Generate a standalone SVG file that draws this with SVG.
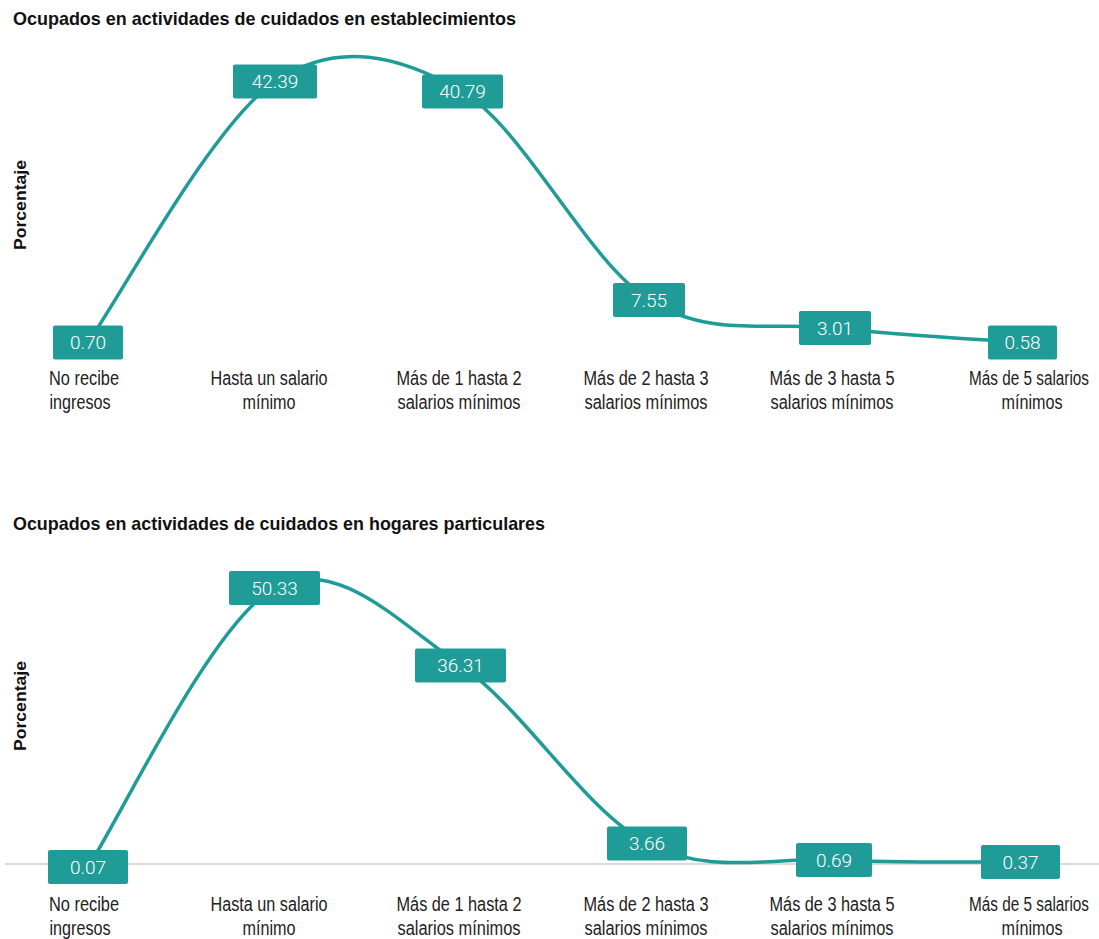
<svg xmlns="http://www.w3.org/2000/svg" width="1099" height="939" viewBox="0 0 1099 939">
<style>
.title{font-family:"Liberation Sans Narrow","Liberation Sans",Arial,sans-serif;font-weight:bold;font-size:19px;fill:#111}
.ylab{font-family:"Liberation Sans Narrow","Liberation Sans",Arial,sans-serif;font-weight:bold;font-size:17px;fill:#111}
.cat{font-family:"Liberation Sans Narrow","Liberation Sans",Arial,sans-serif;font-size:19.5px;fill:#222;text-anchor:middle}
.box{fill:#1f9b98}
.val{font-family:Roboto,"Liberation Sans",sans-serif;font-weight:300;font-size:19px;fill:#fff;text-anchor:middle}
.curve{fill:none;stroke:#1f9b98;stroke-width:3.5;stroke-linecap:round}
.base{stroke:#d9d9d9;stroke-width:2}
</style>
<rect width="1099" height="939" fill="#fff"/>

<!-- Chart 1 -->
<text class="title" x="13" y="25" textLength="503" lengthAdjust="spacingAndGlyphs">Ocupados en actividades de cuidados en establecimientos</text>
<text class="ylab" transform="translate(26,205) rotate(-90)" text-anchor="middle" textLength="90" lengthAdjust="spacingAndGlyphs">Porcentaje</text>

<g id="axis1">
<text class="cat" x="84" y="385" textLength="70" lengthAdjust="spacingAndGlyphs">No recibe</text>
<text class="cat" x="80" y="409" textLength="61" lengthAdjust="spacingAndGlyphs">ingresos</text>
<text class="cat" x="269" y="385" textLength="117" lengthAdjust="spacingAndGlyphs">Hasta un salario</text>
<text class="cat" x="269" y="409" textLength="53" lengthAdjust="spacingAndGlyphs">mínimo</text>
<text class="cat" x="459" y="385" textLength="125" lengthAdjust="spacingAndGlyphs">Más de 1 hasta 2</text>
<text class="cat" x="459" y="409" textLength="123" lengthAdjust="spacingAndGlyphs">salarios mínimos</text>
<text class="cat" x="646" y="385" textLength="125" lengthAdjust="spacingAndGlyphs">Más de 2 hasta 3</text>
<text class="cat" x="646" y="409" textLength="123" lengthAdjust="spacingAndGlyphs">salarios mínimos</text>
<text class="cat" x="832" y="385" textLength="125" lengthAdjust="spacingAndGlyphs">Más de 3 hasta 5</text>
<text class="cat" x="832" y="409" textLength="123" lengthAdjust="spacingAndGlyphs">salarios mínimos</text>
<text class="cat" x="1029" y="385" textLength="120" lengthAdjust="spacingAndGlyphs">Más de 5 salarios</text>
<text class="cat" x="1032" y="409" textLength="61" lengthAdjust="spacingAndGlyphs">mínimos</text>
</g>

<g id="connectors1">
<path class="curve" d="M88,342.5 C119.2,299 212.7,123.3 275,81.5 C337.3,39.7 399.7,55.1 462,91.5 C524.3,127.9 586.8,260.6 649,300 C711.2,339.4 772.8,320.9 835,328 C897.2,335.1 990.8,340.1 1022,342.5"/>
</g>

<g id="c1-n0"><rect class="box" x="53" y="325.5" width="70" height="34" rx="2"/><text class="val" x="88" y="349">0.70</text></g>
<g id="c1-n1"><rect class="box" x="233" y="64.5" width="84" height="34" rx="2"/><text class="val" x="275" y="88">42.39</text></g>
<g id="c1-n2"><rect class="box" x="422" y="74.5" width="81" height="34" rx="2"/><text class="val" x="462.5" y="98">40.79</text></g>
<g id="c1-n3"><rect class="box" x="613" y="283" width="72" height="34" rx="2"/><text class="val" x="649" y="306.5">7.55</text></g>
<g id="c1-n4"><rect class="box" x="799" y="311" width="72" height="34" rx="2"/><text class="val" x="835" y="334.5">3.01</text></g>
<g id="c1-n5"><rect class="box" x="988" y="325.5" width="69" height="34" rx="2"/><text class="val" x="1022.5" y="349">0.58</text></g>

<!-- Chart 2 -->
<text class="title" x="13" y="530" textLength="532" lengthAdjust="spacingAndGlyphs">Ocupados en actividades de cuidados en hogares particulares</text>
<text class="ylab" transform="translate(26,706) rotate(-90)" text-anchor="middle" textLength="90" lengthAdjust="spacingAndGlyphs">Porcentaje</text>

<line class="base" x1="5" y1="864" x2="1099" y2="864"/>

<g id="axis2">
<text class="cat" x="84" y="911" textLength="70" lengthAdjust="spacingAndGlyphs">No recibe</text>
<text class="cat" x="80" y="935" textLength="61" lengthAdjust="spacingAndGlyphs">ingresos</text>
<text class="cat" x="269" y="911" textLength="117" lengthAdjust="spacingAndGlyphs">Hasta un salario</text>
<text class="cat" x="269" y="935" textLength="53" lengthAdjust="spacingAndGlyphs">mínimo</text>
<text class="cat" x="459" y="911" textLength="125" lengthAdjust="spacingAndGlyphs">Más de 1 hasta 2</text>
<text class="cat" x="459" y="935" textLength="123" lengthAdjust="spacingAndGlyphs">salarios mínimos</text>
<text class="cat" x="646" y="911" textLength="125" lengthAdjust="spacingAndGlyphs">Más de 2 hasta 3</text>
<text class="cat" x="646" y="935" textLength="123" lengthAdjust="spacingAndGlyphs">salarios mínimos</text>
<text class="cat" x="832" y="911" textLength="125" lengthAdjust="spacingAndGlyphs">Más de 3 hasta 5</text>
<text class="cat" x="832" y="935" textLength="123" lengthAdjust="spacingAndGlyphs">salarios mínimos</text>
<text class="cat" x="1029" y="911" textLength="120" lengthAdjust="spacingAndGlyphs">Más de 5 salarios</text>
<text class="cat" x="1032" y="935" textLength="61" lengthAdjust="spacingAndGlyphs">mínimos</text>
</g>

<g id="connectors2">
<path class="curve" d="M88,867 C119.1,820.5 212.3,621.6 274.5,588 C336.7,554.4 398.8,622.9 461,665.5 C523.2,708.1 585.3,811.1 647.5,843.5 C709.7,875.9 771.8,856.9 834,860 C896.2,863.1 989.4,861.7 1020.5,862"/>
</g>

<g id="c2-n0"><rect class="box" x="48" y="850" width="80" height="34" rx="2"/><text class="val" x="88" y="873.5">0.07</text></g>
<g id="c2-n1"><rect class="box" x="229" y="571" width="91" height="34" rx="2"/><text class="val" x="274.5" y="594.5">50.33</text></g>
<g id="c2-n2"><rect class="box" x="415" y="648.5" width="91" height="34" rx="2"/><text class="val" x="460.5" y="672">36.31</text></g>
<g id="c2-n3"><rect class="box" x="607" y="826.5" width="80" height="34" rx="2"/><text class="val" x="647" y="850">3.66</text></g>
<g id="c2-n4"><rect class="box" x="796" y="843" width="76" height="34" rx="2"/><text class="val" x="834" y="866.5">0.69</text></g>
<g id="c2-n5"><rect class="box" x="981" y="845" width="79" height="34" rx="2"/><text class="val" x="1020.5" y="868.5">0.37</text></g>
</svg>
